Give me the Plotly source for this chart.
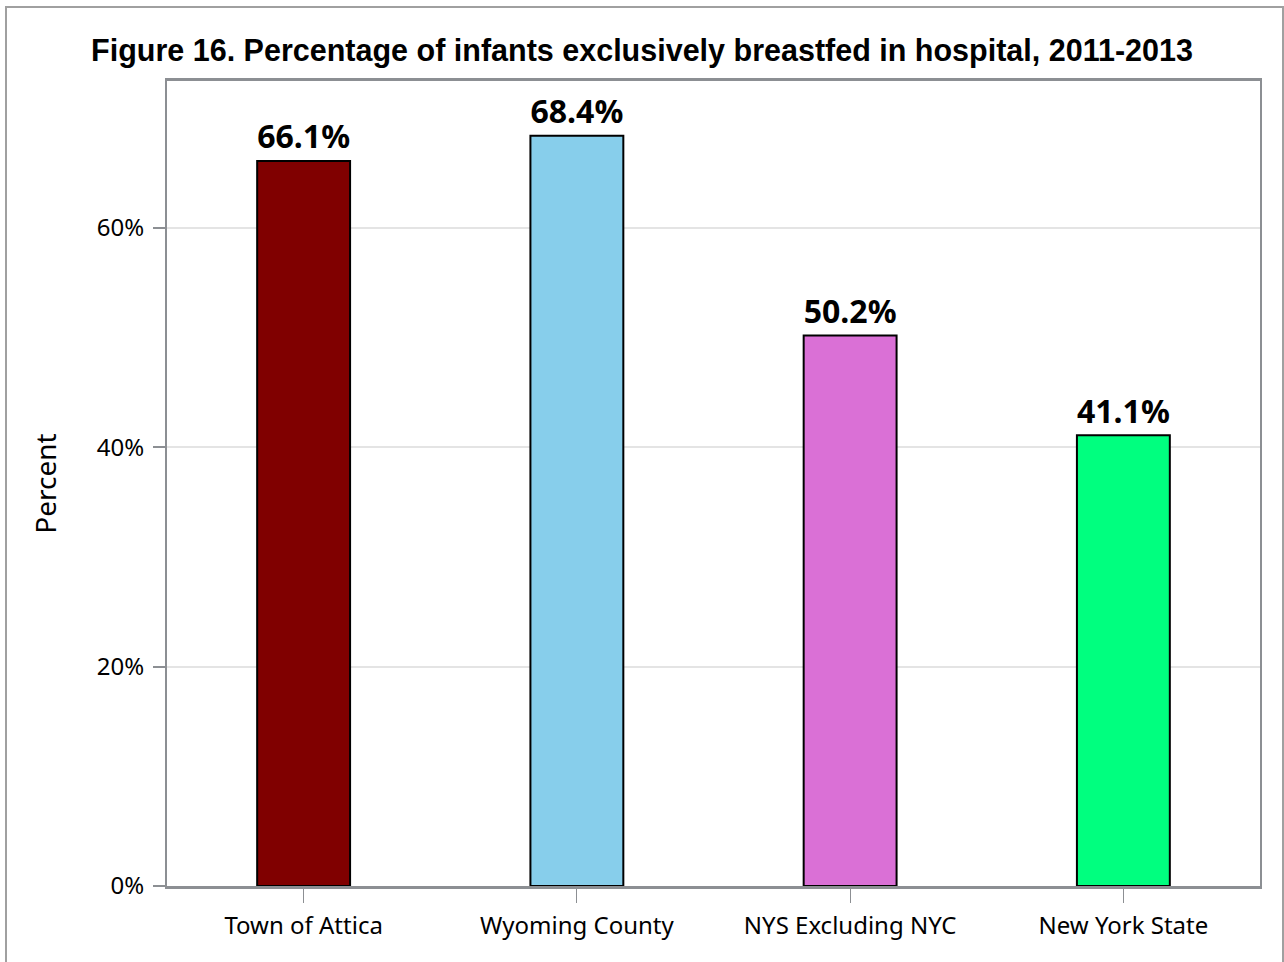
import plotly.graph_objects as go

categories = ["Town of Attica", "Wyoming County", "NYS Excluding NYC", "New York State"]
values = [66.1, 68.4, 50.2, 41.1]
labels = ["66.1%", "68.4%", "50.2%", "41.1%"]
colors = ["#800000", "#87CEEB", "#DA70D6", "#00FF7F"]
tick_vals = [0, 20, 40, 60]
tick_text = ["0%", "20%", "40%", "60%"]
title = "Figure 16. Percentage of infants exclusively breastfed in hospital, 2011-2013"

fig = go.Figure(go.Bar(
    x=categories, y=values, text=labels, textposition="outside",
    textfont=dict(family="Noto Sans", size=33, color="black"),
    texttemplate="<b>%{text}</b>",
    marker=dict(color=colors, line=dict(color="black", width=2)),
    width=0.34, cliponaxis=False,
))

W, H = 1284, 962
L, R, T, B = 167, 24, 81, 76
pw, ph = W - L - R, H - T - B

fig.update_layout(
    width=W, height=H,
    margin=dict(l=L, r=R, t=T, b=B),
    paper_bgcolor="white", plot_bgcolor="white",
    showlegend=False,
    title=dict(text="<b>" + title + "</b>", x=0.5, xref="container", xanchor="center",
               y=1 - 50 / H, yanchor="middle",
               font=dict(family="Liberation Sans", size=30.5, color="black")),
    font=dict(family="Noto Sans", size=24, color="black"),
)
fig.update_yaxes(range=[0, 73.4], tickvals=tick_vals, ticktext=tick_text,
                 showgrid=True, gridcolor="#e4e4e4", gridwidth=1.5,
                 ticks="outside", ticklen=12, tickcolor="#8c8f93", tickwidth=2,
                 showline=True, linecolor="#8c8f93", linewidth=2, mirror=True,
                 zeroline=False, ticklabelstandoff=4,
                 title=dict(text="Percent", font=dict(family="Noto Sans", size=28), standoff=32),
                 tickfont=dict(family="Noto Sans", size=24))
fig.update_xaxes(ticks="outside", ticklen=14, tickcolor="#8c8f93", tickwidth=1,
                 showline=True, linecolor="#8c8f93", linewidth=3, mirror=True,
                 ticklabelstandoff=2,
                 tickfont=dict(family="Noto Sans", size=24))

# outer frame
fig.add_shape(type="rect", xref="paper", yref="paper",
              x0=(6 - L) / pw, x1=(1283 - L) / pw,
              y0=(886 - 975) / ph, y1=(886 - 7) / ph,
              line=dict(color="#a0a0a0", width=2), fillcolor="rgba(0,0,0,0)", layer="below")

fig.write_html("out.html", config={"displayModeBar": False},
               post_script="document.body.style.margin='0';document.body.style.overflow='hidden';")
